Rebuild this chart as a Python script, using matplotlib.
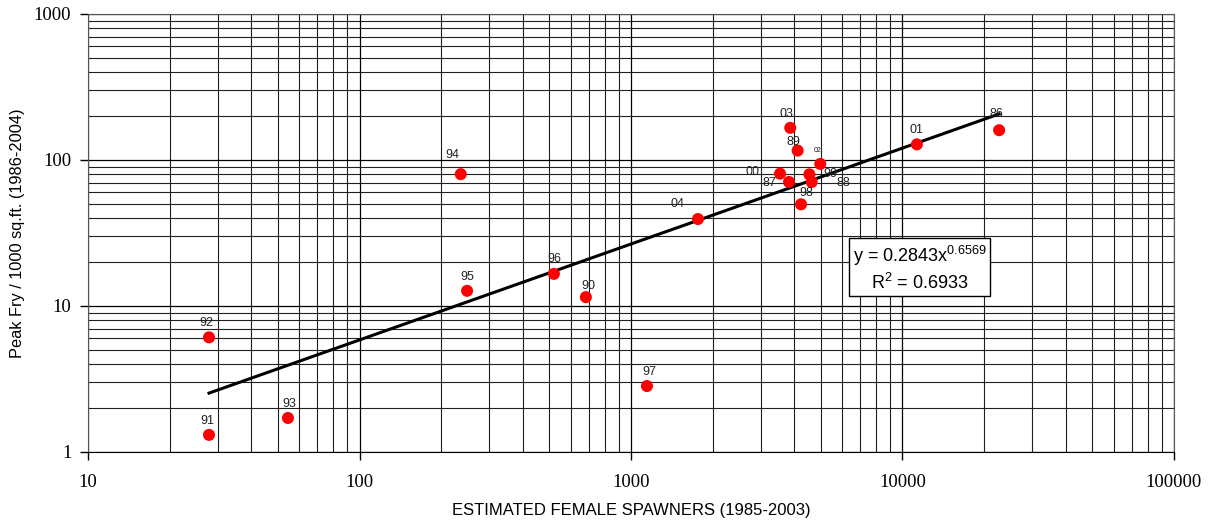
import numpy as np
import matplotlib
matplotlib.use("Agg")
import matplotlib.pyplot as plt
from matplotlib.ticker import LogLocator, NullFormatter

plt.rcParams["mathtext.fontset"] = "custom"
plt.rcParams["mathtext.rm"] = "Liberation Sans"
plt.rcParams["mathtext.it"] = "Liberation Sans:italic"

# Estimated female spawners vs. peak fry density, by brood year label
years = ["92", "91", "93", "94", "95", "96", "90", "97", "04", "03",
         "89", "02", "00", "87", "99", "88", "98", "01", "86"]
spawners = [27.9, 27.9, 54.5, 236, 249, 520, 682, 1145, 1765, 3860,
            4110, 4980, 3540, 3820, 4540, 4630, 4230, 11300, 22700]
peak_fry = [6.1, 1.31, 1.71, 80, 12.7, 16.6, 11.5, 2.83, 39.4, 166,
            116, 94, 80.6, 70.7, 79.8, 70.7, 49.7, 128, 160]

# Power-law fit y = a * x^b
fit_a = 0.2843
fit_b = 0.6569
fit_r2 = 0.6933

# label offsets in points (dx, dy)
label_offsets = {
    "92": (-2, 10), "91": (-1, 10), "93": (1, 10), "94": (-6, 14),
    "95": (0, 10), "96": (0, 11), "90": (2, 8), "97": (2, 10),
    "04": (-15, 11), "03": (-3, 10), "89": (-3, 6), "02": (-2, 10),
    "00": (-20, 1), "87": (-14, -1), "99": (15, 0), "88": (23, -1),
    "98": (4, 8), "01": (0, 10), "86": (-2, 12),
}

fig = plt.figure(figsize=(12.11, 5.22), dpi=100)
ax = fig.add_axes([0.0727, 0.1341, 0.8967, 0.8391])
ax.set_xscale("log")
ax.set_yscale("log")
ax.set_xlim(10, 100000)
ax.set_ylim(1, 1000)

ax.xaxis.set_minor_locator(LogLocator(base=10, subs=np.arange(2, 10), numticks=50))
ax.yaxis.set_minor_locator(LogLocator(base=10, subs=np.arange(2, 10), numticks=50))
ax.xaxis.set_minor_formatter(NullFormatter())
ax.yaxis.set_minor_formatter(NullFormatter())
ax.set_xticks([10, 100, 1000, 10000, 100000])
ax.set_xticklabels(["10", "100", "1000", "10000", "100000"])
ax.set_yticks([1, 10, 100, 1000])
ax.set_yticklabels(["1", "10", "100", "1000"])

ax.grid(True, which="major", color="black", lw=0.9)
ax.grid(True, which="minor", color="#202020", lw=0.8)
ax.set_axisbelow(True)

for lab in ax.get_xticklabels() + ax.get_yticklabels():
    lab.set_fontfamily("Liberation Serif")
    lab.set_fontsize(13.5)
ax.tick_params(which="major", length=6, width=1, direction="out")
ax.tick_params(axis="x", which="major", pad=9.5)
ax.tick_params(axis="y", which="major", pad=6)
ax.tick_params(which="minor", length=0)
for s in ax.spines.values():
    s.set_color("#555555")
ax.spines["bottom"].set_color("black")

# trend line across the range of the data
xfit = np.logspace(np.log10(min(spawners)), np.log10(max(spawners)), 100)
ax.plot(xfit, fit_a * xfit ** fit_b, color="black", lw=2.2, zorder=3)

ax.scatter(spawners, peak_fry, s=75, color="#ff0000", zorder=4, edgecolors="none")

for yr, xv, yv in zip(years, spawners, peak_fry):
    dx, dy = label_offsets[yr]
    ax.annotate(yr, (xv, yv), xytext=(dx, dy), textcoords="offset points",
                ha="center", va="center", fontsize=5 if yr == "02" else 9,
                family="Liberation Sans", color="#222222", zorder=5)

ax.text(0.7044, 0.42,
        "y = %.4fx$^{%.4f}$\nR$^2$ = %.4f" % (fit_a, fit_b, fit_r2),
        transform=ax.transAxes, ha="left", va="center", fontsize=13,
        family="Liberation Sans", linespacing=1.3, zorder=6,
        multialignment="center",
        bbox=dict(boxstyle="square,pad=0.2", fc="white", ec="black", lw=1))

ax.set_xlabel("ESTIMATED FEMALE SPAWNERS (1985-2003)", family="Liberation Sans",
              fontsize=12)
ax.set_ylabel("Peak Fry / 1000 sq.ft. (1986-2004)", family="Liberation Sans",
              fontsize=11.8)
ax.xaxis.set_label_coords(0.5, -0.1347)
ax.yaxis.set_label_coords(-0.0645, 0.5)
ax.xaxis.label.set_va("center")
ax.yaxis.label.set_va("center")

fig.savefig("out.png", dpi=100)
